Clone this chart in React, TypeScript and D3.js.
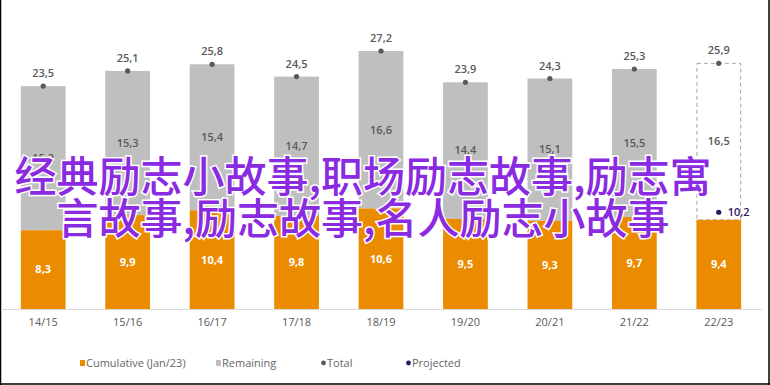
import React from 'react'
import * as d3 from 'd3'

const seasons = ['14/15', '15/16', '16/17', '17/18', '18/19', '19/20', '20/21', '21/22', '22/23']
const cumulative = [8.3, 9.9, 10.4, 9.8, 10.6, 9.5, 9.3, 9.7, 9.4]
const remaining = [15.2, 15.3, 15.4, 14.7, 16.6, 14.4, 15.1, 15.5, 16.5]
const totals = [23.5, 25.1, 25.8, 24.5, 27.2, 23.9, 24.3, 25.3, 25.9]
const projected = [null, null, null, null, null, null, null, null, 10.2]
const legendLabels = ['Cumulative (Jan/23)', 'Remaining', 'Total', 'Projected']
const overlayLines = ['经典励志小故事,职场励志故事,励志寓', '言故事,励志故事,名人励志小故事']

const W = 770
const H = 385
const ORANGE = '#EB8B00'
const GREY = '#BFBFBF'
const DOT = '#595959'
const NAVY = '#2B1A63'
const FONT = '"Open Sans", Lato, sans-serif'

const fmt = (v: number) => d3.format('.1f')(v).replace('.', ',')

export default function App() {
  const x = d3.scaleBand<string>().domain(seasons).range([1, 761]).paddingInner(0.47).paddingOuter(0.235)
  const y = d3.scaleLinear().domain([0, 27.2]).range([309, 51])
  const bw = x.bandwidth()
  const last = seasons.length - 1

  const legendX = [80, 216, 321, 406]

  return (
    <svg width={W} height={H} style={{ position: 'absolute', left: 0, top: 0, fontFamily: FONT }}>
      <rect x={0} y={0} width={W} height={H} fill="#fff" />
      {/* frame */}
      <line x1={0.5} x2={0.5} y1={0} y2={H} stroke="#000" strokeWidth={1.5} />
      <line x1={W - 1} x2={W - 1} y1={0} y2={H} stroke="#000" strokeWidth={1.5} />
      <line x1={0} x2={W} y1={H - 1} y2={H - 1} stroke="#000" strokeWidth={1.5} />

      {seasons.map((s, i) => {
        const x0 = x(s) as number
        const cx = x0 + bw / 2
        const yc = y(cumulative[i])
        const yt = y(totals[i])
        const isLast = i === last
        return (
          <g key={s}>
            {isLast ? (
              <rect x={x0 + 0.5} y={yt} width={bw - 1} height={yc - yt} fill="#fff" stroke="#A6A6A6" strokeWidth={1} strokeDasharray="4,3" />
            ) : (
              <rect x={x0} y={yt} width={bw} height={yc - yt} fill={GREY} />
            )}
            <rect x={x0} y={yc} width={bw} height={y(0) - yc} fill={ORANGE} />
            <text x={cx} y={(yc + y(0)) / 2} dy="0.35em" textAnchor="middle" fill="#fff" fontSize={11} fontWeight={700}>
              {fmt(cumulative[i])}
            </text>
            <text x={cx} y={(yt + yc) / 2} dy="0.35em" textAnchor="middle" fill="#595959" fontSize={11} fontWeight={600}>
              {fmt(remaining[i])}
            </text>
            <circle cx={cx} cy={yt} r={2.6} fill={DOT} />
            <text x={cx} y={yt - 9} textAnchor="middle" fill="#595959" fontSize={11} fontWeight={600}>
              {fmt(totals[i])}
            </text>
            {projected[i] != null && (
              <g>
                <circle cx={cx} cy={y(projected[i] as number)} r={2.6} fill={NAVY} />
                <text x={cx + 9} y={y(projected[i] as number)} dy="0.35em" fill={NAVY} fontSize={11} fontWeight={600}>
                  {fmt(projected[i] as number)}
                </text>
              </g>
            )}
            <text x={cx} y={322} dy="0.35em" textAnchor="middle" fill="#595959" fontSize={11}>
              {s}
            </text>
          </g>
        )
      })}

      <line x1={1} x2={762} y1={y(0) + 0.5} y2={y(0) + 0.5} stroke="#D9D9D9" strokeWidth={1} />

      {/* legend */}
      {legendLabels.map((l, i) => {
        const lx = legendX[i]
        return (
          <g key={l}>
            {i < 2 ? (
              <rect x={lx} y={360} width={5} height={6} fill={i === 0 ? ORANGE : GREY} />
            ) : (
              <circle cx={lx + 2.5} cy={363} r={2.4} fill={i === 2 ? DOT : NAVY} />
            )}
            <text x={lx + 6} y={363} dy="0.35em" fill="#666" fontSize={11}>
              {l}
            </text>
          </g>
        )
      })}

      {/* overlay text */}
      {overlayLines.map((t, i) => (
        <text
          key={i}
          x={363}
          y={177 + i * 42}
          dy="0.36em"
          textAnchor="middle"
          fontFamily='"Noto Sans CJK SC", sans-serif'
          fontSize={42}
          fontWeight={500}
          fill="#8A2BE2"
          stroke="#fff"
          strokeWidth={3}
          paintOrder="stroke"
        >
          {t}
        </text>
      ))}
    </svg>
  )
}
